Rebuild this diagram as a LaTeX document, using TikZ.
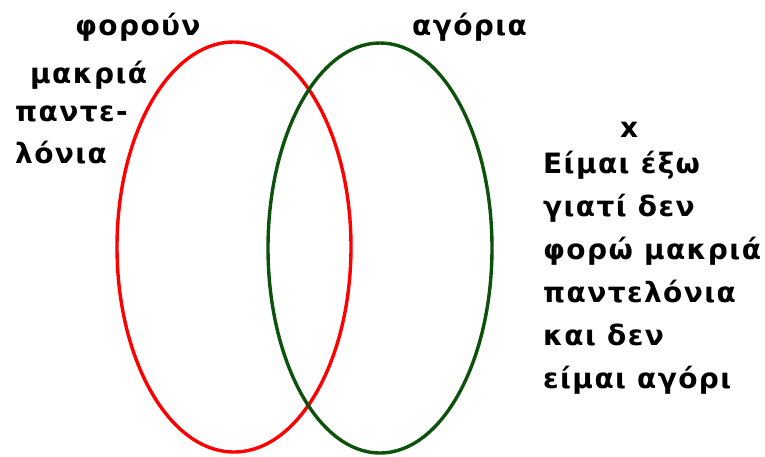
\documentclass[tikz,border=0pt]{standalone}
\usepackage{fontspec}
\setmainfont[LetterSpace=5,BoldFont={DejaVu Sans Bold}]{DejaVu Sans}
\definecolor{vred}{RGB}{255,0,0}
\definecolor{vgreen}{RGB}{12,82,12}
\begin{document}
\begin{tikzpicture}[x=1pt,y=-1pt,
  lbl/.style={anchor=base west,inner sep=0pt,font=\fontsize{28}{30}\selectfont\bfseries},
  ring/.style={line width=3.4pt}]
\useasboundingbox (0,0) rectangle (765,456);
\draw[ring,vred] (234,247) ellipse [x radius=117,y radius=205];
\draw[ring,vgreen] (380,248) ellipse [x radius=112,y radius=205];
\node[lbl] (l1) at (75,35) {φορούν};
\node[lbl] (l2) at (30,83) {μακριά};
\node[lbl] (l3) at (15,121) {παντε-};
\node[lbl] (l4) at (15,163) {λόνια};
\node[lbl] (g1) at (412,35) {αγόρια};
\node[lbl] (x) at (620,137) {x};
\node[lbl] (r1) at (543,173) {Είμαι έξω};
\node[lbl] (r2) at (543,216) {γιατί δεν};
\node[lbl] (r3) at (543,259) {φορώ μακριά};
\node[lbl] (r4) at (543,302) {παντελόνια};
\node[lbl] (r5) at (543,345) {και δεν};
\node[lbl] (r6) at (543,388) {είμαι αγόρι};
\end{tikzpicture}
\end{document}
